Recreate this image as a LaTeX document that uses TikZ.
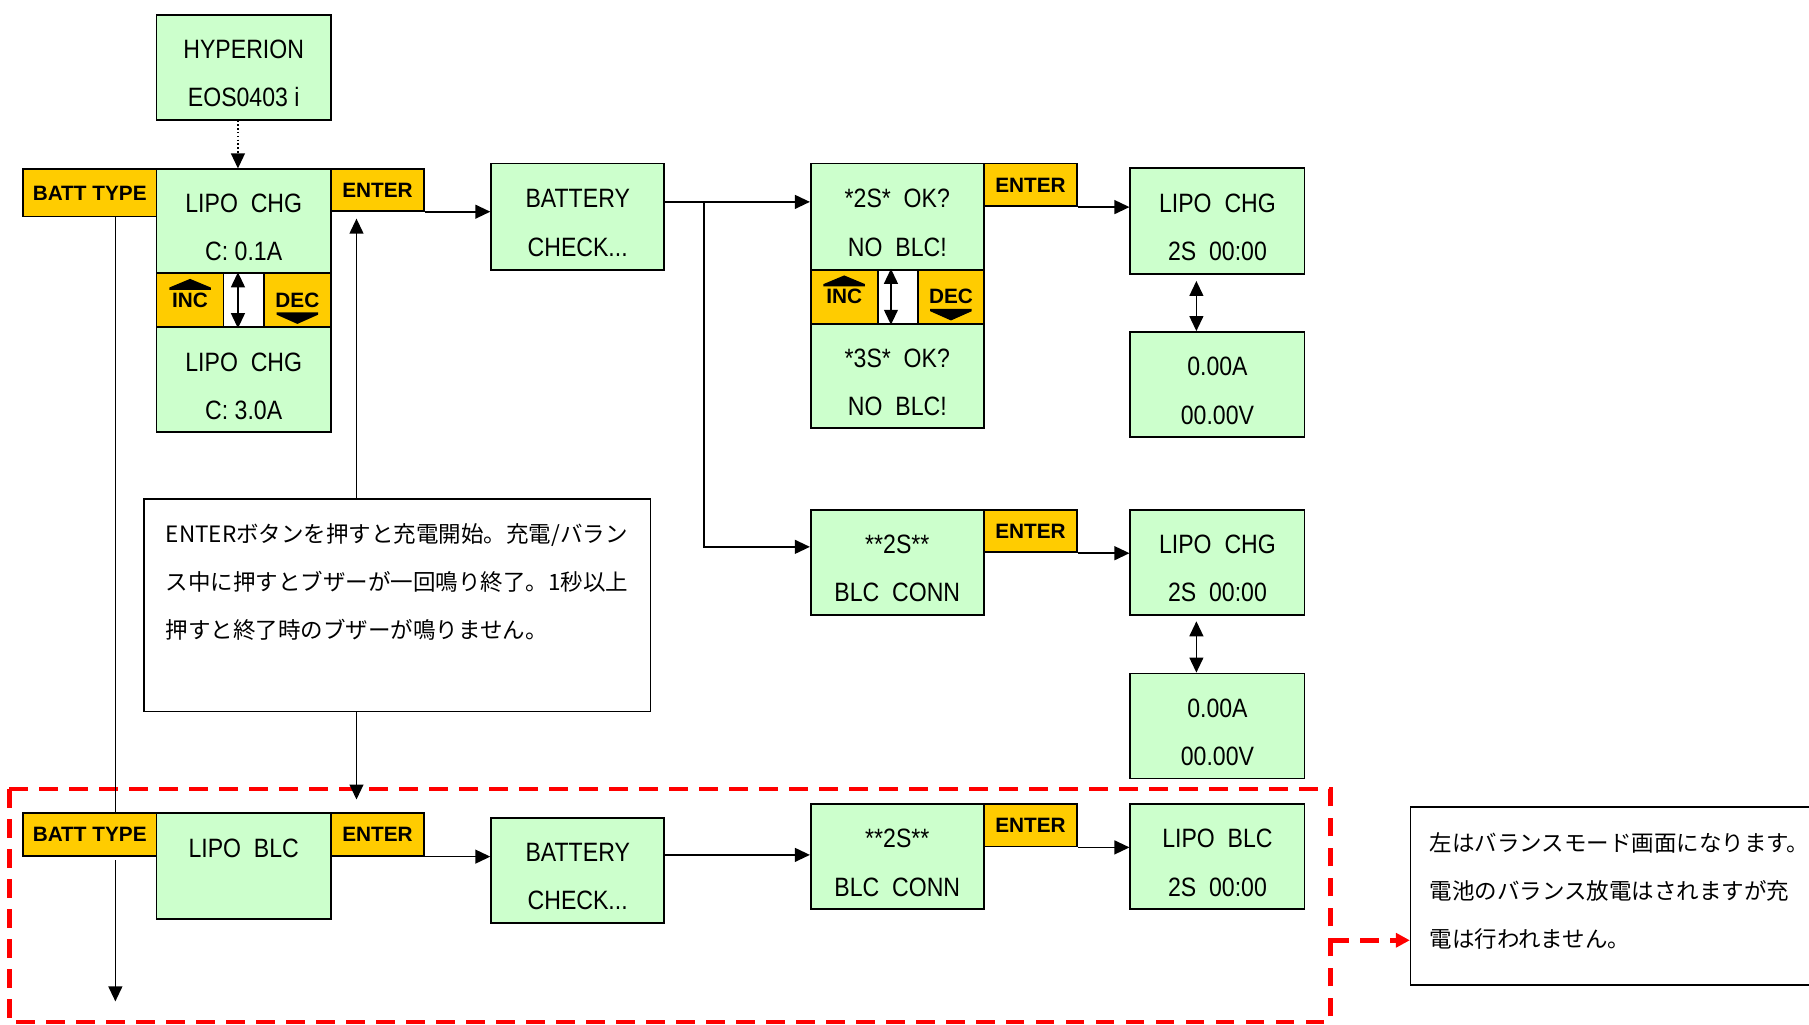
\documentclass[tikz,border=0pt]{standalone}
\usepackage{fontspec}
\setmainfont{Liberation Sans}
\newfontfamily\lcd[FakeStretch=0.87]{Liberation Sans}
\newfontfamily\jp{Noto Sans CJK JP}
\usetikzlibrary{arrows.meta,calc}
\definecolor{lcdgreen}{HTML}{CCFFCC}
\definecolor{keyyellow}{HTML}{FFCC00}
\definecolor{dashred}{HTML}{FF0000}
\newcommand{\lcdstrut}{\rule{0pt}{27pt}}
\begin{document}
\begin{tikzpicture}[x=1pt,y=-1pt,
  sz/.style 2 args={minimum width=#1pt,minimum height=#2pt},
  lcdbox/.style={draw=black,line width=1.5pt,fill=lcdgreen,rectangle,anchor=north west,inner sep=0pt,align=center,font=\lcd\fontsize{23}{42}\selectfont},
  keybox/.style={draw=black,line width=1.5pt,fill=keyyellow,rectangle,anchor=north west,inner sep=0pt,font=\bfseries\fontsize{18}{20}\selectfont},
  plainbox/.style={draw=black,line width=1.5pt,fill=white,rectangle,anchor=north west,inner sep=0pt},
  notebox/.style={draw=black,line width=1.3pt,fill=white,rectangle,anchor=north west,inner sep=0pt,align=left,font=\jp\fontsize{19.5}{41.5}\selectfont},
  arr/.style={line width=1.4pt,-{Triangle[length=13pt,width=12pt]}},
  dbl/.style={line width=1.4pt,{Triangle[length=13pt,width=12pt]}-{Triangle[length=13pt,width=12pt]}},
  plain/.style={line width=1.4pt},
  reddash/.style={draw=dashred,line width=4pt,dash pattern=on 16pt off 10pt},
]
\useasboundingbox (0,0) rectangle (1568,887.6);

% red dashed region
\draw[reddash] (8,684) rectangle (1153,886);

% top-left column
\node[lcdbox,sz={151}{91}] (hyp) at (135,12) {\lcdstrut HYPERION\\EOS0403 i};
\node[keybox,sz={116}{41}] (batt1) at (19,146) {BATT TYPE};
\node[lcdbox,sz={151}{90}] (chg1) at (135,146) {\lcdstrut LIPO~~CHG\\C: 0.1A};
\node[keybox,sz={58}{47}] (inc1) at (135,236) {INC};
\node[plainbox,sz={35}{47}] (mid1) at (193,236) {};
\node[keybox,sz={58}{47}] (dec1) at (228,236) {DEC};
\node[lcdbox,sz={151}{91}] (chg2) at (135,283) {\lcdstrut LIPO~~CHG\\C: 3.0A};
\node[keybox,sz={81}{36}] (ent1) at (286,146) {ENTER};

% battery check
\node[lcdbox,sz={150}{92}] (bc1) at (425,141) {\lcdstrut BATTERY\\CHECK...};

% 2S / 3S column
\node[lcdbox,sz={150}{92}] (ok2) at (702,141) {\lcdstrut *2S*~~OK?\\NO~~BLC!};
\node[keybox,sz={81}{37}] (ent2) at (852,141) {ENTER};
\node[keybox,sz={58}{47}] (inc2) at (702,233) {INC};
\node[plainbox,sz={35}{47}] (mid2) at (760,233) {};
\node[keybox,sz={57}{47}] (dec2) at (795,233) {DEC};
\node[lcdbox,sz={150}{90}] (ok3) at (702,280) {\lcdstrut *3S*~~OK?\\NO~~BLC!};

\node[lcdbox,sz={151}{92}] (chgA) at (979,145) {\lcdstrut LIPO~~CHG\\2S~~00:00};
\node[lcdbox,sz={151}{91}] (volA) at (979,287) {\lcdstrut 0.00A\\00.00V};

\node[lcdbox,sz={150}{91}] (conn1) at (702,441) {\lcdstrut **2S**\\BLC~~CONN};
\node[keybox,sz={81}{37}] (ent3) at (852,441) {ENTER};
\node[lcdbox,sz={151}{91}] (chgB) at (979,441) {\lcdstrut LIPO~~CHG\\2S~~00:00};
\node[lcdbox,sz={151}{91}] (volB) at (979,583) {\lcdstrut 0.00A\\00.00V};

% note box 1
\node[notebox,sz={439}{184}] (note1) at (124,432) {ENTERボタンを押すと充電開始。充電/バラン\\ス中に押すとブザーが一回鳴り終了。1秒以上\\押すと終了時のブザーが鳴りません。\\\mbox{}};

% bottom row
\node[keybox,sz={116}{37}] (batt2) at (19,704) {BATT TYPE};
\node[lcdbox,sz={151}{92}] (blc) at (135,704) {\lcdstrut LIPO~~BLC\\\mbox{}};
\node[keybox,sz={81}{37}] (ent4) at (286,704) {ENTER};
\node[lcdbox,sz={150}{91}] (bc2) at (425,708) {\lcdstrut BATTERY\\CHECK...};
\node[lcdbox,sz={150}{91}] (conn2) at (702,696) {\lcdstrut **2S**\\BLC~~CONN};
\node[keybox,sz={81}{37}] (ent5) at (852,696) {ENTER};
\node[lcdbox,sz={151}{91}] (blc2) at (979,696) {\lcdstrut LIPO~~BLC\\2S~~00:00};

% note box 2
\node[notebox,sz={362}{154}] (note2) at (1222,699) {左はバランスモード画面になります。\\電池のバランス放電はされますが充\\電は行われません。\rule[-10pt]{0pt}{10pt}};

% INC / DEC symbols
\foreach \k in {inc1,inc2}{
  \fill ($(\k.center)+(-18,-9)$) -- ($(\k.center)+(-18,-11)$) -- ($(\k.center)+(0,-18.5)$) -- ($(\k.center)+(18,-11)$) -- ($(\k.center)+(18,-9)$) -- cycle;
}
\foreach \k in {dec1,dec2}{
  \fill ($(\k.center)+(-18,10.5)$) -- ($(\k.center)+(18,10.5)$) -- ($(\k.center)+(18,12.5)$) -- ($(\k.center)+(0,20.5)$) -- ($(\k.center)+(-18,12.5)$) -- cycle;
}
\draw[dbl] ($(mid1.north)+(-5,0)$) -- ($(mid1.south)+(-5,0)$);
\draw[dbl] ($(mid2.north)+(-6,0)$) -- ($(mid2.south)+(-6,0)$);

% connectors
\draw[line width=1.3pt,dotted,-{Triangle[length=13pt,width=12pt]}] ($(hyp.south)+(-5,0)$) -- ($(chg1.north)+(-5,0)$);
\draw[arr] (ent1.south east) -- (ent1.south east -| bc1.west);

\coordinate (px) at (309,0);
\draw[arr,shorten >=6pt] (note1.north -| px) -- (ent1.south -| px);
\draw[arr,shorten >=11pt] (note1.south -| px) -- (ent4.north -| px);

\coordinate (bdown) at (100,868);
\draw[plain] (bdown |- batt1.south) -- (bdown |- batt2.north);
\draw[arr,shorten <=3pt] (bdown |- batt2.south) -- (bdown);

\coordinate (j1) at (610,175);
\coordinate (j2) at (610,474);
\draw[arr] (bc1.east |- j1) -- (ok2.west |- j1);
\draw[arr] (j1) -- (j2) -- (conn1.west |- j2);

\draw[arr] (ent2.south east) -- (ent2.south east -| chgA.west);
\draw[arr] (ent3.south east) -- (ent3.south east -| chgB.west);
\coordinate (vx) at (1037,0);
\draw[dbl,shorten <=5pt] (chgA.south -| vx) -- (volA.north -| vx);
\draw[dbl,shorten <=5pt] (chgB.south -| vx) -- (volB.north -| vx);

\draw[arr] (ent4.south east) -- (ent4.south east -| bc2.west);
\coordinate (j3) at (575,741);
\draw[arr] (bc2.east |- j3) -- (conn2.west |- j3);
\draw[arr] (ent5.south east) -- (ent5.south east -| blc2.west);

\coordinate (rj) at (1153,815);
\draw[reddash,-{Triangle[length=12pt,width=12pt,fill=dashred]}] (rj) -- (note2.west |- rj);
\end{tikzpicture}
\end{document}
